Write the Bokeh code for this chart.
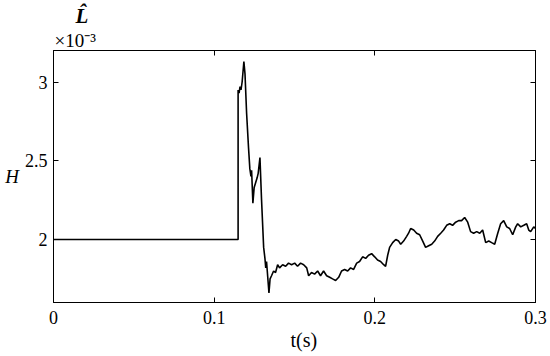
from bokeh.plotting import figure
from bokeh.models import Range1d, LinearAxis, Title, FixedTicker, CustomJSTickFormatter
from bokeh.embed import file_html
from bokeh.resources import INLINE

# time (s)
t = [0.0, 0.1149, 0.1149, 0.1155, 0.1161, 0.1167, 0.1174, 0.1185, 0.1192, 0.1202,
     0.1214, 0.1222, 0.1229, 0.1233, 0.1241, 0.1249, 0.1258, 0.1267, 0.1274, 0.1285,
     0.1295, 0.1308, 0.1316, 0.1321, 0.1326, 0.1341, 0.1348, 0.1357, 0.1370, 0.1382,
     0.1395, 0.1407, 0.1426, 0.1445, 0.1463, 0.1482, 0.1501, 0.1519, 0.1538, 0.1557,
     0.1576, 0.1588, 0.1606, 0.1625, 0.1644, 0.1662, 0.1681, 0.1700, 0.1719, 0.1737,
     0.1756, 0.1775, 0.1793, 0.1812, 0.1831, 0.1849, 0.1868, 0.1887, 0.1905, 0.1924,
     0.1943, 0.1961, 0.1980, 0.1999, 0.2017, 0.2036, 0.2055, 0.2067, 0.2080, 0.2092,
     0.2111, 0.2130, 0.2148, 0.2161, 0.2179, 0.2198, 0.2210, 0.2223, 0.2242, 0.2260,
     0.2279, 0.2298, 0.2316, 0.2335, 0.2354, 0.2372, 0.2391, 0.2410, 0.2428, 0.2447,
     0.2466, 0.2484, 0.2503, 0.2522, 0.2540, 0.2559, 0.2578, 0.2596, 0.2615, 0.2634,
     0.2653, 0.2671, 0.2690, 0.2709, 0.2727, 0.2746, 0.2765, 0.2783, 0.2802, 0.2821,
     0.2839, 0.2858, 0.2877, 0.2889, 0.2908, 0.2927, 0.2945, 0.2958, 0.2970, 0.2989,
     0.3000]
# L_H (x 1e-3)
L_H = [2.00, 2.00, 2.95, 2.93, 2.97, 2.95, 3.00, 3.13, 3.05, 2.80,
       2.58, 2.45, 2.40, 2.44, 2.23, 2.33, 2.36, 2.39, 2.42, 2.52,
       2.25, 1.95, 1.88, 1.82, 1.86, 1.66, 1.75, 1.77, 1.80, 1.79,
       1.84, 1.82, 1.84, 1.83, 1.85, 1.84, 1.85, 1.83, 1.85, 1.84,
       1.82, 1.77, 1.79, 1.78, 1.80, 1.77, 1.80, 1.77, 1.76, 1.75,
       1.74, 1.76, 1.80, 1.81, 1.80, 1.82, 1.81, 1.85, 1.86, 1.89,
       1.88, 1.90, 1.91, 1.89, 1.87, 1.86, 1.84, 1.83, 1.90, 1.95,
       1.98, 2.00, 1.99, 1.97, 1.99, 2.02, 2.04, 2.07, 2.06, 2.04,
       2.03, 1.99, 1.95, 1.96, 1.97, 1.99, 2.02, 2.04, 2.06, 2.09,
       2.10, 2.09, 2.11, 2.12, 2.12, 2.14, 2.11, 2.05, 2.04, 2.05,
       2.04, 2.06, 1.98, 1.99, 1.98, 1.97, 2.04, 2.10, 2.12, 2.08,
       2.07, 2.03, 2.08, 2.10, 2.08, 2.09, 2.10, 2.06, 2.05, 2.08,
       2.07]

x_ticks = [0, 0.1, 0.2, 0.3]
y_ticks = [2, 2.5, 3]

FONT = "Liberation Serif"

p = figure(width=548, height=354, output_backend="svg", toolbar_location=None,
           x_range=Range1d(0, 0.3), y_range=Range1d(1.6, 3.2),
           min_border_left=53, min_border_right=13, min_border_top=50, min_border_bottom=52,
           x_axis_location=None, y_axis_location=None)
p.grid.visible = False
p.outline_line_color = "black"
p.outline_line_width = 1
p.background_fill_color = "white"
p.border_fill_color = "white"

def style_axis(ax, labels=True):
    ax.axis_line_color = "black"
    ax.major_tick_in = 5
    ax.major_tick_out = 0
    ax.minor_tick_line_color = None
    ax.major_tick_line_color = "black"
    ax.major_label_text_font = FONT
    ax.major_label_text_font_size = "18px"
    ax.major_label_text_color = "black"
    ax.axis_label_text_font = FONT
    ax.axis_label_text_color = "black"
    if not labels:
        ax.major_label_text_font_size = "0px"
        ax.major_label_text_color = None
        ax.major_label_standoff = 0

xb = LinearAxis(ticker=FixedTicker(ticks=x_ticks))
xb.formatter = CustomJSTickFormatter(code="return tick == 0 ? '0' : tick.toFixed(1);")
style_axis(xb)
xb.major_label_standoff = 8
p.add_layout(xb, "below")
xt = LinearAxis(ticker=FixedTicker(ticks=x_ticks))
style_axis(xt, labels=False)
p.add_layout(xt, "above")

yl = LinearAxis(ticker=FixedTicker(ticks=y_ticks))
yl.formatter = CustomJSTickFormatter(code="return tick == 2.5 ? '2.5' : tick.toFixed(0);")
style_axis(yl)
yl.major_label_standoff = 6
yl.axis_label = "H"
yl.axis_label_orientation = "horizontal"
yl.axis_label_text_font_size = "19px"
yl.axis_label_text_font_style = "italic"
yl.axis_label_standoff = 3
p.add_layout(yl, "left")
yr = LinearAxis(ticker=FixedTicker(ticks=y_ticks))
style_axis(yr, labels=False)
p.add_layout(yr, "right")

p.line(t, L_H, line_color="black", line_width=1.6)

p.add_layout(Title(text="t(s)", align="left", offset=237,
                   text_font=FONT, text_font_size="20px", text_font_style="normal",
                   text_color="black", standoff=0), "below")
p.add_layout(Title(text="\u00d710\u207b\u00b3", align="left", offset=1,
                   text_font=FONT, text_font_size="19px", text_font_style="normal",
                   text_color="black", standoff=0), "above")
p.add_layout(Title(text="L\u0302", align="left", offset=22,
                   text_font=FONT, text_font_size="21px", text_font_style="bold italic",
                   text_color="black", standoff=0), "above")

open("out.html", "w").write(file_html(p, INLINE))
